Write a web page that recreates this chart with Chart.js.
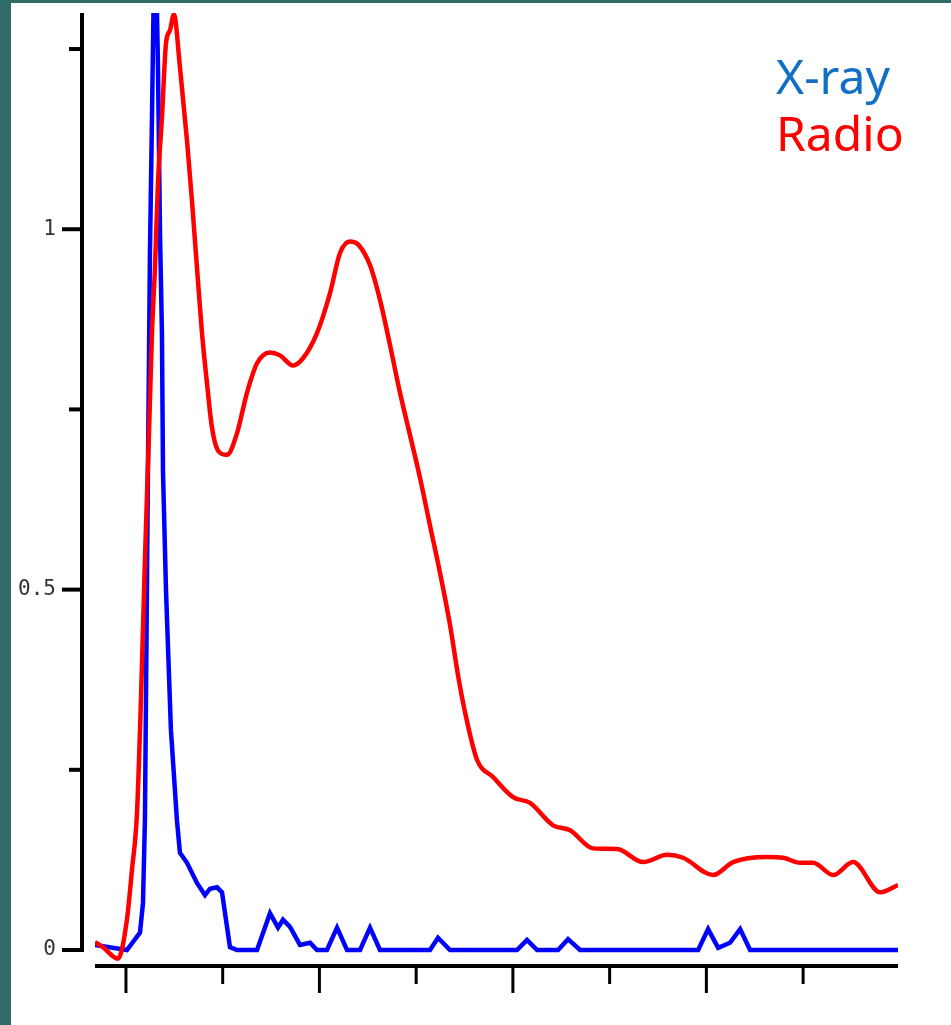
<!DOCTYPE html>
<html>
<head>
<meta charset="utf-8">
<script src="https://cdn.jsdelivr.net/npm/chart.js@4"></script>
<style>
  html, body { margin: 0; padding: 0; }
  body { background: #306b67; width: 951px; height: 1025px; overflow: hidden; position: relative; }
  #panel { position: absolute; left: 11px; top: 3px; right: 0; bottom: 0; background: #fff; }
  #wrap { position: absolute; left: 0; top: 0; width: 951px; height: 1025px; }
</style>
</head>
<body>
<div id="panel"></div>
<div id="wrap"><canvas id="lightCurve"></canvas></div>
<script>
// values (x in tick units, y in axis units)
var radioX = [0.680, 0.762, 0.917, 1.010, 1.062, 1.114, 1.155, 1.196, 1.238, 1.269, 1.300, 1.331, 1.372, 1.414, 1.455, 1.496,
    1.558, 1.631, 1.682, 1.734, 1.786, 1.838, 1.889, 1.951, 2.044, 2.148, 2.251, 2.355, 2.489, 2.592,
    2.727, 2.830, 2.975, 3.109, 3.213, 3.316, 3.399, 3.523, 3.626, 3.730, 3.833, 3.937, 4.040, 4.143,
    4.247, 4.350, 4.433, 4.505, 4.629, 4.795, 5.002, 5.177, 5.415, 5.591, 5.829, 6.077, 6.346, 6.594,
    6.759, 7.070, 7.276, 7.628, 7.793, 7.969, 8.104, 8.311, 8.517, 8.797, 8.981];
var radioY = [0.011, 0.004, -0.012, 0.042, 0.111, 0.190, 0.347, 0.541, 0.717, 0.856, 0.947, 1.064, 1.155, 1.258, 1.276, 1.298,
    1.225, 1.123, 1.040, 0.947, 0.856, 0.786, 0.725, 0.693, 0.687, 0.717, 0.773, 0.814, 0.829, 0.825,
    0.811, 0.821, 0.856, 0.911, 0.967, 0.983, 0.979, 0.950, 0.902, 0.839, 0.773, 0.714, 0.655, 0.589,
    0.523, 0.451, 0.381, 0.330, 0.264, 0.240, 0.212, 0.204, 0.173, 0.166, 0.141, 0.140, 0.122, 0.132,
    0.128, 0.104, 0.122, 0.129, 0.128, 0.121, 0.121, 0.104, 0.122, 0.080, 0.090];

var xrayX = [0.680, 1.010, 1.145, 1.176, 1.196, 1.227, 1.248, 1.269, 1.300, 1.331, 1.352, 1.372, 1.383,
    1.414, 1.465, 1.527, 1.558, 1.631, 1.734, 1.817, 1.869, 1.941, 1.993, 2.075, 2.148, 2.355, 2.489,
    2.572, 2.623, 2.696, 2.799, 2.903, 2.975, 3.078, 3.182, 3.285, 3.420, 3.523, 3.626, 4.143, 4.226,
    4.350, 5.043, 5.146, 5.250, 5.467, 5.570, 5.694, 6.915, 7.018, 7.122, 7.245, 7.349, 7.452, 8.981];
var xrayY = [0.007, 0.000, 0.024, 0.065, 0.180, 0.662, 0.967, 1.155, 1.450, 1.225, 0.994, 0.856, 0.662,
    0.499, 0.305, 0.180, 0.135, 0.121, 0.093, 0.076, 0.085, 0.087, 0.080, 0.004, 0.000, 0.000, 0.051,
    0.031, 0.042, 0.032, 0.007, 0.010, 0.000, 0.000, 0.031, 0.000, 0.000, 0.031, 0.000, 0.000, 0.017,
    0.000, 0.000, 0.014, 0.000, 0.000, 0.015, 0.000, 0.000, 0.029, 0.003, 0.010, 0.029, 0.000, 0.000];

var yTicks = [0, 0.25, 0.5, 0.75, 1, 1.25];
var yTickLabels = ['0', '', '0.5', '', '1', ''];
var xTicks = [1, 2, 3, 4, 5, 6, 7, 8];

function toPoints(xs, ys) {
    var pts = [];
    for (var i = 0; i < xs.length; i++) pts.push({x: xs[i], y: ys[i]});
    return pts;
}

var axesPlugin = {
    id: 'detachedAxes',
    afterDraw: function(chart) {
        var ctx = chart.ctx;
        var xs = chart.scales.x, ys = chart.scales.y;
        var axisX = xs.left - 13;
        ctx.save();
        ctx.strokeStyle = '#000';
        ctx.lineCap = 'butt';

        // y axis
        ctx.lineWidth = 4;
        ctx.beginPath();
        ctx.moveTo(axisX, ys.top);
        ctx.lineTo(axisX, ys.getPixelForValue(0) + 2);
        ctx.stroke();
        ctx.font = '21px "DejaVu Sans Mono"';
        ctx.fillStyle = '#333';
        ctx.textAlign = 'right';
        ctx.textBaseline = 'middle';
        yTicks.forEach(function(v, i) {
            var py = ys.getPixelForValue(v);
            var len = yTickLabels[i] ? 20 : 13;
            ctx.lineWidth = 4;
            ctx.beginPath();
            ctx.moveTo(axisX - len, py);
            ctx.lineTo(axisX, py);
            ctx.stroke();
            if (yTickLabels[i]) ctx.fillText(yTickLabels[i], axisX - 26, py);
        });

        // x axis
        var axisY = ys.bottom;
        ctx.lineWidth = 4;
        ctx.beginPath();
        ctx.moveTo(xs.left, axisY);
        ctx.lineTo(xs.right, axisY);
        ctx.stroke();
        xTicks.forEach(function(v, i) {
            var px = xs.getPixelForValue(v);
            ctx.lineWidth = 3;
            ctx.beginPath();
            ctx.moveTo(px, axisY);
            ctx.lineTo(px, axisY + (i % 2 === 0 ? 27 : 18));
            ctx.stroke();
        });

        // legend text
        ctx.textAlign = 'left';
        ctx.textBaseline = 'alphabetic';
        ctx.font = '48px "Noto Sans"';
        var lx = chart.width - 175;
        ctx.fillStyle = chart.data.datasets[1].legendColor;
        ctx.fillText(chart.data.datasets[1].label, lx, 94);
        ctx.fillStyle = chart.data.datasets[0].legendColor;
        ctx.fillText(chart.data.datasets[0].label, lx, 151);
        ctx.restore();
    }
};

var ctx = document.getElementById('lightCurve').getContext('2d');
var lightCurve = new Chart(ctx, {
    type: 'line',
    data: {
        datasets: [
            {
                label: 'Radio',
                data: toPoints(radioX, radioY),
                borderColor: '#ff0000',
                legendColor: '#ff0000',
                borderWidth: 4.5,
                pointRadius: 0,
                cubicInterpolationMode: 'monotone',
                order: 0
            },
            {
                label: 'X-ray',
                data: toPoints(xrayX, xrayY),
                borderColor: '#0000ff',
                legendColor: '#1170c6',
                borderWidth: 4.5,
                pointRadius: 0,
                tension: 0,
                order: 1
            }
        ]
    },
    options: {
        responsive: true,
        maintainAspectRatio: false,
        animation: false,
        layout: { padding: { left: 95, right: 53, top: 13, bottom: 59 } },
        plugins: { legend: { display: false }, tooltip: { enabled: false } },
        scales: {
            x: { type: 'linear', min: 0.68, max: 8.981, display: false },
            y: { min: -0.0222, max: 1.3, display: false }
        }
    },
    plugins: [axesPlugin]
});
</script>
</body>
</html>
